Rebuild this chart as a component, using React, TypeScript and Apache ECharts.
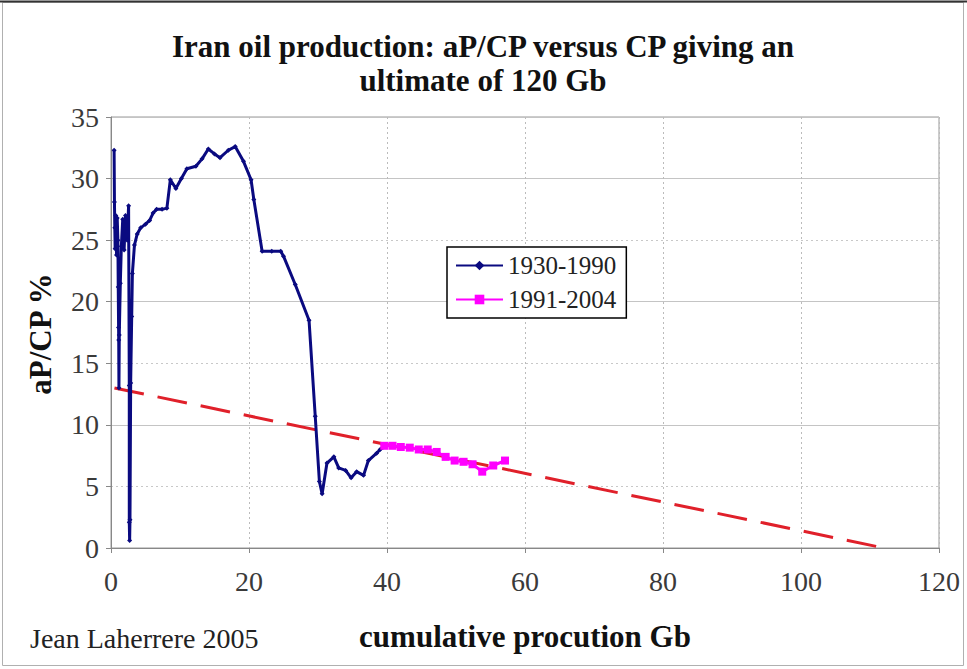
import React, { useEffect, useRef } from "react";
import * as echarts from "echarts";

// ---- data ----
const seriesNames = ["1930-1990", "1991-2004"];

const blueX = [
  0.45, 0.5, 0.55, 0.6, 0.7, 0.8, 0.9, 1.0, 1.05, 1.1, 1.12, 1.15, 1.2, 1.35, 1.5, 1.7, 1.9, 2.1, 2.35, 2.55,
  2.65, 2.65, 2.7, 2.75, 2.85, 3.0, 3.1, 3.4, 3.8, 4.3, 5.0, 5.6, 6.1, 6.6, 7.4, 8.1, 8.6, 9.4, 10.2, 11.0,
  12.3, 13.2, 14.1, 15.0, 15.8, 17.0, 18.0, 19.2, 20.3, 20.7, 21.9, 23.3, 24.6, 25.0, 26.7, 28.7, 29.6, 30.2,
  30.6, 31.3, 32.3, 33.0, 34.0, 34.8, 35.6, 36.6, 37.3, 38.5, 39.0, 39.5,
];
const blueY = [
  32.3, 28.1, 26.0, 24.3, 27.0, 23.8, 26.8, 25.0, 21.2, 17.9, 16.9, 13.0, 17.3, 21.5, 24.5, 26.7, 24.2, 27.0, 25.0, 27.8,
  13.2, 2.1, 0.6, 2.3, 13.4, 18.8, 22.3, 24.6, 25.5, 26.0, 26.3, 26.6, 27.2, 27.5, 27.5, 27.6, 29.9, 29.2, 30.0, 30.8,
  31.0, 31.6, 32.4, 32.0, 31.7, 32.3, 32.6, 31.4, 29.9, 28.3, 24.1, 24.1, 24.1, 23.7, 21.4, 18.5, 10.7, 5.4,
  4.4, 6.9, 7.4, 6.5, 6.3, 5.7, 6.2, 5.9, 7.1, 7.7, 8.0, 8.2,
];

const pinkX = [39.6, 40.8, 42.0, 43.3, 44.6, 45.9, 47.2, 48.5, 49.8, 51.1, 52.4, 53.8, 55.4, 57.1];
const pinkY = [8.3, 8.3, 8.2, 8.15, 8.0, 8.0, 7.8, 7.4, 7.1, 7.0, 6.8, 6.2, 6.7, 7.1];

const trendX = [0.5, 112];
const trendY = [13.0, 0];

const xMin = 0, xMax = 120, xStep = 20;
const yMin = 0, yMax = 35, yStep = 5;

const titleLines = ["Iran oil production: aP/CP versus CP giving an", "ultimate of 120 Gb"];
const xName = "cumulative procution Gb";
const yName = "aP/CP %";
const credit = "Jean Laherrere 2005";

const zip = (xs: number[], ys: number[]) => xs.map((x, i) => [x, ys[i]]);

const SERIF = "Liberation Serif";

export default function App() {
  const ref = useRef<HTMLDivElement>(null);
  useEffect(() => {
    if (!ref.current) return;
    const chart = echarts.init(ref.current, undefined, { renderer: "svg" });
    chart.setOption({
      animation: false,
      backgroundColor: "#ffffff",
      textStyle: { fontFamily: SERIF },
      grid: {
        left: 111,
        top: 117,
        width: 828,
        height: 431,
        show: true,
        borderColor: "#999",
        borderWidth: 1,
        backgroundColor: "transparent",
      },
      xAxis: {
        type: "value",
        min: xMin,
        max: xMax,
        interval: xStep,
        axisLine: { show: true, lineStyle: { color: "#888", width: 1 } },
        axisTick: { show: true, inside: false, length: 5, lineStyle: { color: "#888" } },
        axisLabel: { fontFamily: SERIF, fontSize: 28, color: "#3a3a3a", margin: 19 },
        splitLine: { show: true, lineStyle: { color: "#bbb", type: [2, 3], width: 1 } },
      },
      yAxis: [
        {
          type: "value",
          min: yMin,
          max: yMax,
          interval: yStep,
          axisLine: { show: true, lineStyle: { color: "#888", width: 1 } },
          axisTick: { show: true, inside: false, length: 5, lineStyle: { color: "#888" } },
          axisLabel: { fontFamily: SERIF, fontSize: 28, color: "#3a3a3a", margin: 12 },
          splitLine: { show: true, lineStyle: { color: "#c8c8c8", type: [2, 3], width: 1 } },
        },
        {
          type: "value",
          min: yMin,
          max: yMax,
          interval: yStep * 2,
          position: "left",
          axisLine: { show: false },
          axisTick: { show: false },
          axisLabel: { show: false },
          splitLine: { show: true, lineStyle: { color: "#c4c4c4", type: "solid", width: 1 } },
        },
      ],
      legend: {
        data: seriesNames,
        orient: "vertical",
        left: 447,
        top: 247,
        backgroundColor: "#fff",
        borderColor: "#000",
        borderWidth: 1.5,
        borderRadius: 0,
        padding: [6, 10, 6, 8],
        itemGap: 9,
        itemWidth: 47,
        itemHeight: 12,
        textStyle: { fontFamily: SERIF, fontSize: 25, color: "#222" },
      },
      series: [
        {
          name: "trend",
          type: "line",
          data: zip(trendX, trendY),
          showSymbol: false,
          symbol: "none",
          lineStyle: { color: "#e0202a", width: 3, type: [30, 14] },
          z: 3,
          silent: true,
        },
        {
          name: seriesNames[0],
          type: "line",
          data: zip(blueX, blueY),
          symbol: "diamond",
          symbolSize: 5,
          itemStyle: { color: "#0a0a80" },
          lineStyle: { color: "#0a0a80", width: 3 },
          z: 4,
        },
        {
          name: seriesNames[1],
          type: "line",
          data: zip(pinkX, pinkY),
          symbol: "rect",
          symbolSize: 8,
          itemStyle: { color: "#ff00ff" },
          lineStyle: { color: "#ff00ff", width: 3 },
          z: 5,
        },
      ],
      graphic: [
        {
          type: "rect",
          shape: { x: 2.5, y: 2.5, width: 961, height: 663 },
          style: { fill: "none", stroke: "#b0b0b0", lineWidth: 1 },
          silent: true,
        },
        {
          type: "line",
          shape: { x1: 0, y1: 1.5, x2: 967, y2: 1.5 },
          style: { stroke: "#333", lineWidth: 2 },
          silent: true,
        },
        {
          type: "text",
          x: 483,
          y: 46,
          style: {
            text: titleLines[0],
            fontFamily: SERIF,
            fontWeight: "bold",
            fontSize: 31,
            fill: "#111",
            textAlign: "center",
            textVerticalAlign: "middle",
          },
        },
        {
          type: "text",
          x: 483,
          y: 80,
          style: {
            text: titleLines[1],
            fontFamily: SERIF,
            fontWeight: "bold",
            fontSize: 31,
            fill: "#111",
            textAlign: "center",
            textVerticalAlign: "middle",
          },
        },
        {
          type: "text",
          x: 40,
          y: 334,
          rotation: Math.PI / 2,
          style: {
            text: yName,
            fontFamily: SERIF,
            fontWeight: "bold",
            fontSize: 31,
            fill: "#111",
            textAlign: "center",
            textVerticalAlign: "middle",
          },
        },
        {
          type: "text",
          x: 525,
          y: 636,
          style: {
            text: xName,
            fontFamily: SERIF,
            fontWeight: "bold",
            fontSize: 31,
            fill: "#111",
            textAlign: "center",
            textVerticalAlign: "middle",
          },
        },
        {
          type: "text",
          x: 30,
          y: 638,
          style: {
            text: credit,
            fontFamily: SERIF,
            fontSize: 28,
            fill: "#222",
            textAlign: "left",
            textVerticalAlign: "middle",
          },
        },
      ],
    });
    return () => chart.dispose();
  }, []);
  return (
    <div
      ref={ref}
      style={{ position: "fixed", left: 0, top: 0, width: 967, height: 669, background: "#fff" }}
    />
  );
}
